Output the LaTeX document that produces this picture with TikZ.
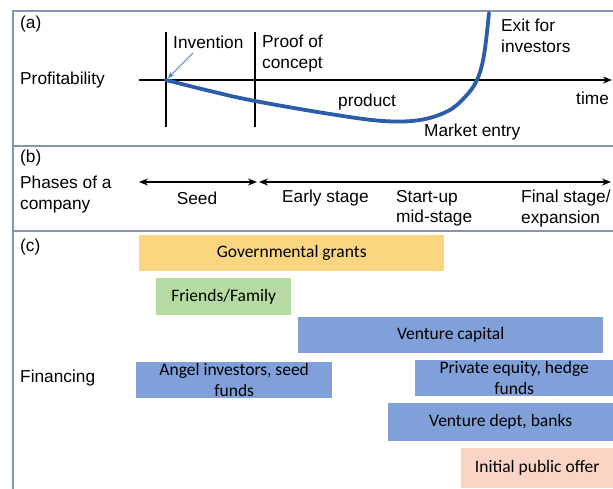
\documentclass[tikz,border=0pt]{standalone}
\usepackage{fontspec}
\setmainfont{Liberation Sans}
\newfontfamily\boxfont{Carlito}
\usetikzlibrary{arrows.meta}
\definecolor{framecol}{HTML}{8595AD}
\definecolor{curvecol}{HTML}{2B5DA8}
\definecolor{thinarr}{HTML}{4A7FC0}
\definecolor{govcol}{HTML}{FAD680}
\definecolor{famcol}{HTML}{B5DBA3}
\definecolor{bluecol}{HTML}{7FA0D8}
\definecolor{ipocol}{HTML}{F8D5C4}
\tikzset{
  lbl/.style={anchor=west, inner sep=0pt, font=\fontsize{17.3}{20.5}\selectfont, align=left},
  clbl/.style={inner sep=0pt, font=\fontsize{17.3}{20.5}\selectfont, align=left},
  fbox/.style={anchor=north west, inner sep=0pt, draw=none, align=center,
     font=\boxfont\fontsize{17.5}{21}\selectfont},
  framel/.style={draw=framecol, line width=1.3pt},
  axisl/.style={line width=1.7pt, black},
  phasel/.style={line width=1.5pt, black, {Stealth[length=9pt,width=7pt]}-{Stealth[length=9pt,width=7pt]}}
}
\begin{document}
\begin{tikzpicture}[x=1pt,y=-1pt]
\useasboundingbox (0,0) rectangle (613,488);
% frames
\coordinate (ftr) at (625,11);
\coordinate (ftl) at (13,11);
\coordinate (fbl) at (13,495);
\coordinate (d1l) at (13,146);
\coordinate (d1r) at (625,146);
\coordinate (d2l) at (13,231);
\coordinate (d2r) at (625,231);
\draw[framel] (ftr) -- (ftl) -- (fbl);
\draw[framel] (d1l) -- (d1r);
\draw[framel] (d2l) -- (d2r);
% panel (a)
\node[lbl] (pa) at (20,24) {(a)};
\node[lbl] (prof) at (20,80) {Profitability};
\coordinate (axs) at (139,80);
\coordinate (axe) at (612,80);
\draw[axisl, -{Stealth[length=9pt,width=7pt]}] (axs) -- (axe);
\coordinate (v1t) at (166,32);
\coordinate (v1b) at (166,127);
\coordinate (v2t) at (255,32);
\coordinate (v2b) at (255,127);
\draw[axisl] (v1t) -- (v1b);
\draw[axisl] (v2t) -- (v2b);
\node[lbl] (inv) at (173,42) {Invention};
\node[lbl, anchor=north west] (poc) at (262,35) {Proof of\\concept};
\node[lbl] (prod) at (338,102) {product};
\node[lbl] (mkt) at (424,132) {Market entry};
\node[lbl] (time) at (576,98) {time};
\node[lbl, anchor=north west] (exit) at (501,19) {Exit for\\investors};
\coordinate (c0) at (166,80);
\coordinate (invtip) at (168,78);
\coordinate (invtail) at (193,53);
\draw[thinarr, line width=0.9pt, -{Stealth[length=6pt,width=5pt]}] (invtail) -- (invtip);
\draw[curvecol, line width=3.8pt, line cap=round] plot[smooth, tension=0.6] coordinates
  {(c0) (210,91) (255,101) (330,114) (383,121) (420,120) (448,111) (465,97) (477,80) (484,55) (489,13)};
% panel (b)
\node[lbl] (pb) at (20,158) {(b)};
\node[lbl, anchor=north west] (phases) at (20,176) {Phases of a\\company};
\coordinate (p1s) at (139,182);
\coordinate (p1e) at (257,182);
\coordinate (p2s) at (259,182);
\coordinate (p2e) at (611,182);
\draw[phasel] (p1s) -- (p1e);
\draw[phasel] (p2s) -- (p2e);
\node[clbl] (seed) at (197,198) {Seed};
\node[lbl] (early) at (282,198) {Early stage};
\node[lbl, anchor=north west] (start) at (396,190) {Start-up\\mid-stage};
\node[lbl, anchor=north west] (final) at (521,190) {Final stage/\\expansion};
% panel (c)
\node[lbl] (pc) at (20,247) {(c)};
\node[lbl] (fin) at (20,378) {Financing};
\node[fbox, fill=govcol, minimum width=305pt, minimum height=36pt] (gov) at (139,235) {Governmental grants};
\node[fbox, fill=famcol, minimum width=135pt, minimum height=37pt] (fam) at (156,278) {Friends/Family};
\node[fbox, fill=bluecol, minimum width=305pt, minimum height=36pt] (vc) at (298,317) {Venture capital};
\node[fbox, fill=bluecol, minimum width=196pt, minimum height=36pt] (angel) at (136,362) {Angel investors, seed\\funds};
\node[fbox, fill=bluecol, minimum width=198pt, minimum height=36pt] (pe) at (415,360) {Private equity, hedge\\funds};
\node[fbox, fill=bluecol, minimum width=225pt, minimum height=38pt] (vd) at (388,403) {Venture dept, banks};
\node[fbox, fill=ipocol, minimum width=152pt, minimum height=40pt] (ipo) at (461,448) {Initial public offer};
\end{tikzpicture}
\end{document}
